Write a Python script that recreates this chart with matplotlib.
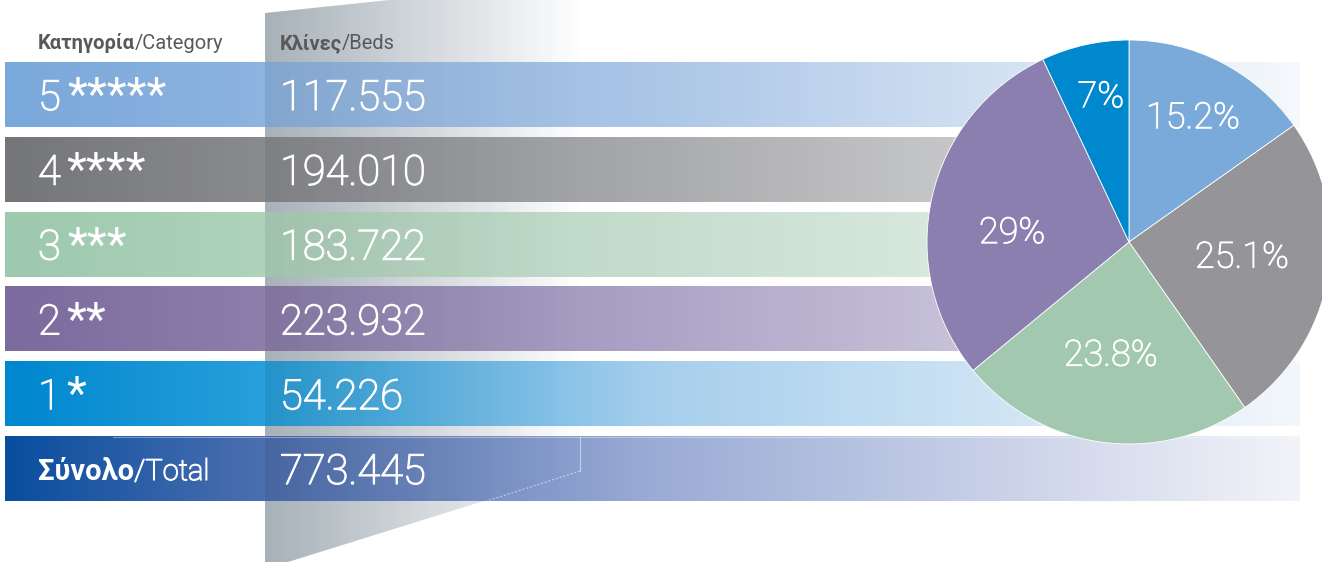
import numpy as np
import matplotlib.pyplot as plt
import matplotlib.patheffects as pe
from matplotlib.colors import LinearSegmentedColormap
from matplotlib.patches import Polygon

plt.rcParams['font.family'] = ['Roboto', 'DejaVu Sans']

# δεδομένα
categories = ["5", "4", "3", "2", "1"]
stars = ["*****", "****", "***", "**", "*"]
beds = [117555, 194010, 183722, 223932, 54226]
pct_labels = ["15.2%", "25.1%", "23.8%", "29%", "7%"]
header_cat = ("Κατηγορία", "/Category")
header_beds = ("Κλίνες", "/Beds")
total_label = ("Σύνολο", "/Total")

# στυλ
W, H = 1322, 562
pie_colors = ["#7aaad9", "#959599", "#a3c8b0", "#8b7fb0", "#0088cf"]
band_stops = [
    ["#79a8da", "#8eb4e0", "#abc6e7", "#f5f8fc"],
    ["#75767a", "#8a8b8f", "#a9aaad", "#e8e8e9"],
    ["#9dc9ae", "#afd3bb", "#c6ddce", "#eef5f0"],
    ["#7b6b9e", "#8c7fac", "#aca4c6", "#e4e1ee"],
    ["#0087cf", "#28a0db", "#a6ceec", "#f2f7fc"],
    ["#0a4e9f", "#4d6fb0", "#9aabd5", "#f2f3f9"],
]
stop_pos = [0.0, 0.2, 0.5, 1.0]
band_top = 62
band_step = 74.8
band_h = 65
band_x0, band_x1 = 5, 1300
x_label, x_value = 38, 280
header_color = "#58595b"
thick = [pe.withStroke(linewidth=0.9, foreground='white')]


def fmt(v):
    return f"{v:,}".replace(",", ".")


fig = plt.figure(figsize=(W / 100, H / 100), dpi=100)
ax = fig.add_axes([0, 0, 1, 1])
ax.axis('off')

# γκρι τραπέζιο στο φόντο
trap_pts = [(265, 13), (580, -20), (580, 471), (288, 562), (265, 562)]
trap = Polygon(trap_pts, closed=True, facecolor='none', edgecolor='none')
ax.add_patch(trap)
gray_cmap = LinearSegmentedColormap.from_list(
    "g", [(0, "#b6c1c9"), (0.5, "#dde2e6"), (1, "#ffffff")])
grad = np.linspace(0, 1, 256).reshape(1, -1)
im = ax.imshow(grad, extent=(265, 585, 570, -25), aspect='auto',
               cmap=gray_cmap, zorder=1, interpolation='bilinear')
im.set_clip_path(trap)

# λωρίδες
for i, cols in enumerate(band_stops):
    y0 = band_top + i * band_step
    cmap = LinearSegmentedColormap.from_list("b%d" % i, list(zip(stop_pos, cols)))
    ax.imshow(grad, extent=(band_x0, band_x1, y0 + band_h, y0), aspect='auto',
              cmap=cmap, zorder=2, interpolation='bilinear')

# σκίαση πάνω στις λωρίδες
shade = np.zeros((1, 256, 4))
shade[0, :, 3] = np.linspace(0.08, 0.0, 256)
sh = ax.imshow(shade, extent=(265, 585, 570, -25), aspect='auto', zorder=3,
               interpolation='bilinear')
trap2 = Polygon(trap_pts, closed=True, facecolor='none', edgecolor='none')
ax.add_patch(trap2)
sh.set_clip_path(trap2)

# γραμμές στη λωρίδα συνόλου
yt = band_top + 5 * band_step
ax.plot([113, band_x1], [yt + 1, yt + 1], color='white', alpha=0.35, lw=0.8, zorder=3.5)
ax.plot([580, 580], [yt + 1, 471], color='white', alpha=0.5, lw=0.8, zorder=3.5)
ax.plot([580, 487], [471, yt + band_h], color='white', alpha=0.5, lw=0.8,
        ls=(0, (2, 1.5)), zorder=3.5)

renderer = fig.canvas.get_renderer()


def two_part(x, y, bold, light, size, color, weight, effects=None):
    t1 = ax.text(x, y, bold, fontsize=size, fontweight='bold', color=color,
                 va='baseline', ha='left', zorder=5)
    bb = t1.get_window_extent(renderer)
    ax.text(bb.x1, y, light, fontsize=size, fontweight=weight, color=color,
            va='baseline', ha='left', zorder=5, path_effects=effects)


ax.set_xlim(0, W)
ax.set_ylim(H, 0)

two_part(x_label, 49, header_cat[0], header_cat[1], 14.5, header_color, 'normal')
two_part(x_value, 49, header_beds[0], header_beds[1], 14.5, header_color, 'normal')

for i, cat in enumerate(categories):
    base = band_top + i * band_step + 48
    t = ax.text(x_label, base, cat, fontsize=30, fontweight='light', color='white',
                va='baseline', zorder=5, path_effects=thick)
    bb = t.get_window_extent(renderer)
    ax.text(bb.x1 + 6, base, stars[i], fontsize=33, color='white',
            va='baseline', zorder=5)
    ax.text(x_value, base, fmt(beds[i]), fontsize=30, fontweight='light',
            color='white', va='baseline', zorder=5, path_effects=thick)

base = band_top + 5 * band_step + 44
two_part(x_label, base, total_label[0], total_label[1], 21, 'white', 'light', thick)
ax.text(x_value, base + 4, fmt(sum(beds)), fontsize=30, fontweight='light',
        color='white', va='baseline', zorder=5, path_effects=thick)

# πίτα
cx, cy, r = 1129, 242, 202
ax_pie = fig.add_axes([(cx - r) / W, (H - cy - r) / H, 2 * r / W, 2 * r / H])
wedges, _ = ax_pie.pie(beds, colors=pie_colors, startangle=90, counterclock=False,
                       wedgeprops=dict(edgecolor='white', linewidth=0.6))
ax_pie.set_xlim(-1, 1)
ax_pie.set_ylim(-1, 1)
ax_pie.set_aspect('equal')
ax_pie.axis('off')

lab_r = [0.69, 0.565, 0.57, 0.58, 0.73]
lab_da = [0, 2, -1.3, 8.3, -1.6]
for w, lab, rr, da in zip(wedges, pct_labels, lab_r, lab_da):
    th = np.deg2rad((w.theta1 + w.theta2) / 2 + da)
    ax_pie.text(rr * np.cos(th), rr * np.sin(th), lab, fontsize=26,
                fontweight='light', color='white', ha='center', va='center',
                path_effects=[pe.withStroke(linewidth=0.7, foreground='white')])

fig.savefig("out.png", dpi=100)
